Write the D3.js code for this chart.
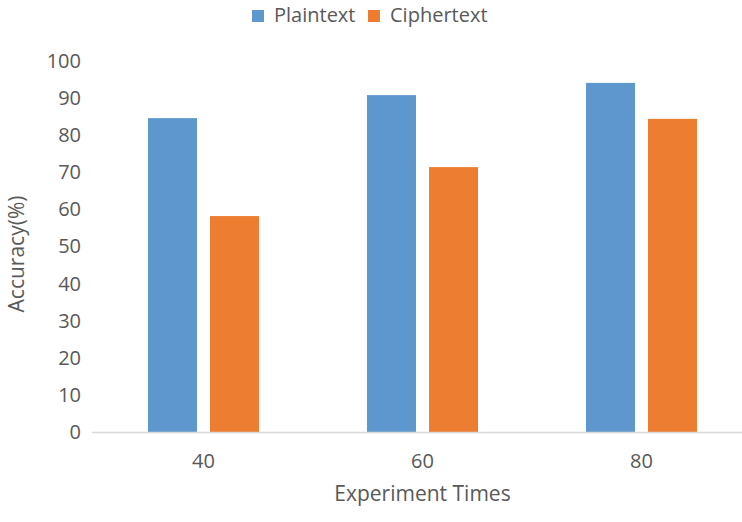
<!DOCTYPE html>
<html>
<head>
<meta charset="utf-8">
<script src="https://cdn.jsdelivr.net/npm/d3@7"></script>
<style>
  body { margin: 0; background: #fff; }
  svg text { font-family: "Open Sans", "Noto Sans", sans-serif; fill: #595959; }
</style>
</head>
<body>
<svg id="chart"></svg>
<script>
// data
const times = ['40', '60', '80'];
const seriesNames = ['Plaintext', 'Ciphertext'];
const plaintext = [84.6, 90.8, 94.1];
const ciphertext = [58.2, 71.4, 84.4];
const yTicks = [0, 10, 20, 30, 40, 50, 60, 70, 80, 90, 100];
const colors = ['#5E97CD', '#ED7D31'];

const size = {width: 742, height: 522};
const svg = d3.select('#chart')
    .attr('width', size.width)
    .attr('height', size.height);

// scales
const x = d3.scaleBand()
    .domain(times)
    .range([94, 751])
    .padding(0);

const xInner = d3.scaleBand()
    .domain(seriesNames)
    .range([0, x.bandwidth()])
    .paddingInner(0.21)
    .paddingOuter(0.87);

const y = d3.scaleLinear()
    .domain([0, 100])
    .range([432, 61]);

const color = d3.scaleOrdinal().domain(seriesNames).range(colors);

const rows = times.map((t, i) => ({
    time: t,
    values: [
        {name: 'Plaintext', value: plaintext[i]},
        {name: 'Ciphertext', value: ciphertext[i]}
    ]
}));

// bars
svg.append('g')
    .selectAll('g')
    .data(rows)
    .join('g')
    .attr('transform', d => `translate(${x(d.time)},0)`)
    .selectAll('rect')
    .data(d => d.values)
    .join('rect')
    .attr('x', d => xInner(d.name))
    .attr('y', d => y(d.value))
    .attr('width', xInner.bandwidth())
    .attr('height', d => y(0) - y(d.value))
    .attr('fill', d => color(d.name));

// x axis line
svg.append('line')
    .attr('x1', 92)
    .attr('x2', size.width)
    .attr('y1', y(0) + 0.5)
    .attr('y2', y(0) + 0.5)
    .attr('stroke', '#d9d9d9')
    .attr('stroke-width', 1.5);

// x axis labels
const xAxis = svg.append('g')
    .attr('transform', `translate(0,${y(0)})`)
    .call(d3.axisBottom(x).tickSize(0).tickPadding(22));
xAxis.select('.domain').remove();
xAxis.selectAll('text')
    .style('font-size', '20px')
    .attr('fill', '#595959');

// y axis labels
const yAxis = svg.append('g')
    .attr('transform', 'translate(92,0)')
    .call(d3.axisLeft(y).tickValues(yTicks).tickSize(0).tickPadding(11));
yAxis.select('.domain').remove();
yAxis.selectAll('text')
    .style('font-size', '20px')
    .attr('fill', '#595959');

// axis titles
svg.append('text')
    .attr('x', (x.range()[0] + x.range()[1]) / 2)
    .attr('y', 501)
    .attr('text-anchor', 'middle')
    .style('font-size', '21px')
    .text('Experiment Times');

svg.append('text')
    .attr('transform', 'translate(24,254) rotate(-90)')
    .attr('text-anchor', 'middle')
    .style('font-size', '21px')
    .text('Accuracy(%)');

// legend
const legendItems = [
    {name: 'Plaintext', x: 252},
    {name: 'Ciphertext', x: 368}
];
const legend = svg.append('g');
legend.selectAll('rect')
    .data(legendItems)
    .join('rect')
    .attr('x', d => d.x)
    .attr('y', 10)
    .attr('width', 12)
    .attr('height', 12)
    .attr('fill', d => color(d.name));
legend.selectAll('text')
    .data(legendItems)
    .join('text')
    .attr('x', d => d.x + 22)
    .attr('y', 22)
    .style('font-size', '20px')
    .text(d => d.name);
</script>
</body>
</html>
